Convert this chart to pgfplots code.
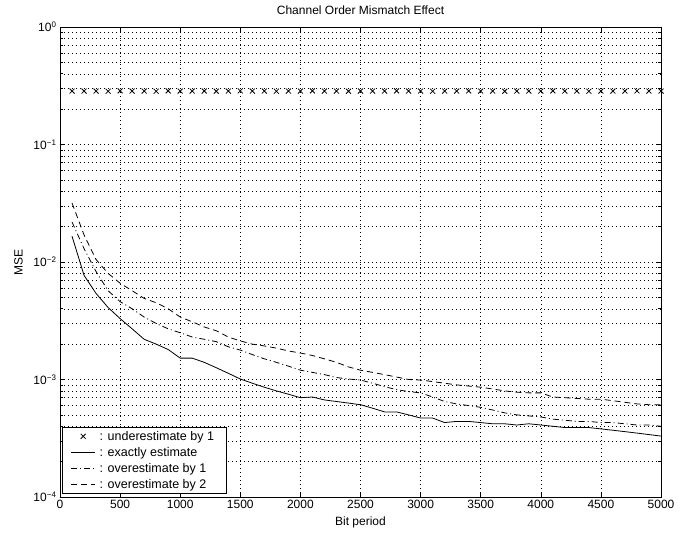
\documentclass[border=0pt]{standalone}
\usepackage{fontspec}
\setmainfont{Liberation Sans}
\usepackage{pgfplots}
\pgfplotsset{compat=1.18}

% legend samples: a single mark, or a short stroke
\pgfplotsset{
  marklegend/.style={legend image code/.code={\draw[##1] plot coordinates {(12pt,0pt)};}},
  linelegend/.style={legend image code/.code={\draw[##1] (0pt,0pt) -- (24pt,0pt);}},
}

% MSE curves for the channel-order mismatch study
\pgfplotstableread{
x y
100 0.0166
200 0.0077
300 0.0054
400 0.0041
500 0.0033
600 0.0027
700 0.0022
800 0.0020
900 0.0018
1000 0.00152
1100 0.00152
1200 0.0014
1300 0.00126
1400 0.00113
1500 0.00101
1600 0.00093
1700 0.00086
1800 0.0008
1900 0.00075
2000 0.0007
2100 0.00071
2200 0.00067
2300 0.00065
2400 0.00063
2500 0.00061
2600 0.00057
2700 0.00053
2800 0.00053
2900 0.0005
3000 0.00047
3100 0.00047
3200 0.00043
3300 0.00044
3400 0.00044
3500 0.00043
3600 0.00042
3700 0.00042
3800 0.00041
3900 0.00042
4000 0.00041
4100 0.00040
4200 0.00039
4300 0.00039
4400 0.00039
4500 0.00038
4600 0.00037
4700 0.00036
4800 0.00035
4900 0.00034
5000 0.00033
}\exact

\pgfplotstableread{
x y
100 0.0219
200 0.0130
300 0.0083
400 0.0057
500 0.0046
600 0.0040
700 0.0034
800 0.0030
900 0.0027
1000 0.0025
1100 0.0023
1200 0.0022
1300 0.0021
1400 0.0019
1500 0.00178
1600 0.00163
1700 0.0015
1800 0.0014
1900 0.0013
2000 0.0012
2100 0.00115
2200 0.0011
2300 0.00104
2400 0.00101
2500 0.00099
2600 0.00093
2700 0.00087
2800 0.00082
2900 0.00079
3000 0.00077
3100 0.00071
3200 0.00065
3300 0.00062
3400 0.0006
3500 0.00058
3600 0.00055
3700 0.00052
3800 0.0005
3900 0.00049
4000 0.00048
4100 0.00046
4200 0.00045
4300 0.00044
4400 0.00044
4500 0.00043
4600 0.00043
4700 0.00042
4800 0.00041
4900 0.00041
5000 0.0004
}\overone

\pgfplotstableread{
x y
100 0.0318
200 0.017
300 0.0105
400 0.0080
500 0.0066
600 0.0057
700 0.0049
800 0.0045
900 0.0040
1000 0.0034
1100 0.0031
1200 0.0028
1300 0.0026
1400 0.0023
1500 0.00213
1600 0.0020
1700 0.00193
1800 0.00185
1900 0.00175
2000 0.00168
2100 0.0016
2200 0.0015
2300 0.0014
2400 0.00128
2500 0.0012
2600 0.00115
2700 0.0011
2800 0.00105
2900 0.001
3000 0.00099
3100 0.00096
3200 0.00093
3300 0.0009
3400 0.00088
3500 0.00086
3600 0.00083
3700 0.0008
3800 0.00078
3900 0.00077
4000 0.00077
4100 0.00071
4200 0.0007
4300 0.00069
4400 0.00068
4500 0.00068
4600 0.00066
4700 0.00064
4800 0.00062
4900 0.00061
5000 0.00061
}\overtwo

\pgfplotstableread{
x y
100 0.285
200 0.285
300 0.285
400 0.284
500 0.286
600 0.285
700 0.285
800 0.284
900 0.286
1000 0.285
1100 0.285
1200 0.285
1300 0.284
1400 0.285
1500 0.286
1600 0.285
1700 0.285
1800 0.284
1900 0.285
2000 0.285
2100 0.286
2200 0.285
2300 0.285
2400 0.284
2500 0.285
2600 0.285
2700 0.285
2800 0.286
2900 0.285
3000 0.285
3100 0.284
3200 0.285
3300 0.285
3400 0.286
3500 0.285
3600 0.285
3700 0.284
3800 0.285
3900 0.285
4000 0.285
4100 0.286
4200 0.285
4300 0.285
4400 0.284
4500 0.285
4600 0.285
4700 0.285
4800 0.286
4900 0.285
5000 0.285
}\underone

\begin{document}
\begin{tikzpicture}
\path[use as bounding box] (-60pt,-36pt) rectangle (632pt,497pt);
\begin{axis}[
  at={(0,0)}, anchor=south west,
  scale only axis, width=601pt, height=470pt,
  ymode=log,
  xmin=0, xmax=5000, ymin=1e-4, ymax=1,
  xtick={0,500,...,5000},
  ytick={1e-4,1e-3,1e-2,1e-1,1},
  yticklabels={10\textsuperscript{−4},10\textsuperscript{−3},10\textsuperscript{−2},10\textsuperscript{−1},10\textsuperscript{0}},
  /pgf/number format/assume math mode=true,
  /pgf/number format/1000 sep={},
  tick label style={font=\fontsize{12}{14}\selectfont},
  label style={font=\fontsize{12}{14}\selectfont},
  title style={font=\fontsize{12}{14}\selectfont, yshift=3pt},
  title={Channel Order Mismatch Effect},
  xlabel={Bit period}, ylabel={MSE},
  xlabel style={yshift=-1pt},
  ylabel style={yshift=4pt},
  tick align=inside,
  major tick length=5pt, minor tick length=3pt,
  tick style={black, line width=0.6pt},
  axis line style={line width=0.8pt},
  xmajorgrids, ymajorgrids, yminorgrids,
  grid style={black, line width=0.5pt, dash pattern=on 0.7pt off 3.3pt},
  minor grid style={black, line width=0.5pt, dash pattern=on 0.7pt off 3.3pt},
  legend cell align=left,
  legend style={at={(0.004,0.006)}, anchor=south west, draw=black, line width=0.8pt,
    font=\fontsize{12.5}{14}\selectfont, inner xsep=8pt, inner ysep=2pt, row sep=1.5pt,
    nodes={inner xsep=4pt}},
]
\addplot[only marks, mark=x, mark size=3.5pt, black, line width=0.8pt, marklegend]
  table[x=x,y=y] {\underone};
\addlegendentry{: underestimate by 1}
\addplot[black, line width=0.8pt, linelegend] table[x=x,y=y] {\exact};
\addlegendentry{: exactly estimate}
\addplot[black, line width=0.8pt, dash pattern=on 6pt off 3pt on 1pt off 3pt, linelegend] table[x=x,y=y] {\overone};
\addlegendentry{: overestimate by 1}
\addplot[black, line width=0.8pt, dash pattern=on 6pt off 4pt, linelegend] table[x=x,y=y] {\overtwo};
\addlegendentry{: overestimate by 2}
\end{axis}
\end{tikzpicture}
\end{document}
